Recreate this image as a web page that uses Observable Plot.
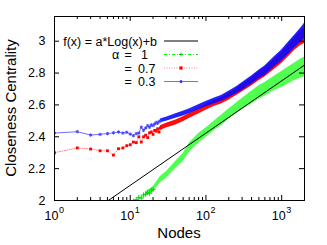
<!DOCTYPE html>
<html><head><meta charset="utf-8">
<script src="https://cdn.jsdelivr.net/npm/d3@7"></script>
<script src="https://cdn.jsdelivr.net/npm/@observablehq/plot@0.6"></script>
<style>
html,body{margin:0;padding:0;background:#fff;}
#chart{width:327px;height:245px;}
</style>
</head><body><div id="chart"></div>
<script>
// ---- data ----
const nodesSparse = [1,2,3,4,5,6,7,8,9,10,11,12,13,14,15,16,17,18,19,20,21,22,23,24,25];
const blueSparse  = [2.423,2.432,2.411,2.415,2.420,2.425,2.430,2.423,2.428,2.417,2.407,2.420,2.423,2.460,2.440,2.455,2.470,2.460,2.475,2.470,2.480,2.490,2.485,2.495,2.500];
const redSparse   = [2.300,2.330,2.323,2.312,2.312,2.285,2.325,2.330,2.344,2.350,2.367,2.363,2.400,2.367,2.400,2.410,2.395,2.425,2.430,2.415,2.440,2.435,2.450,2.430,2.455];
const greenSparseNodes = [11,12,13,14,15,16,17,18,19,20];
const greenSparse = [1.995,2.005,2.020,2.015,2.035,2.040,2.050,2.045,2.065,2.070];

const greenNodes = [16,20,25,30,40,50,60,80,100,130,160,200,250,300,400,500,600,800,1000,1200,1500,1800,2000];
const greenLow = [2.025,2.055,2.110,2.140,2.203,2.245,2.300,2.360,2.395,2.440,2.470,2.510,2.545,2.570,2.605,2.635,2.655,2.690,2.710,2.730,2.755,2.770,2.775];
const greenHigh= [2.055,2.085,2.150,2.180,2.247,2.295,2.360,2.420,2.455,2.500,2.535,2.575,2.610,2.640,2.685,2.720,2.740,2.780,2.810,2.835,2.865,2.890,2.900];

const bandNodes = [25,30,40,50,60,80,100,130,160,200,250,300,400,500,600,800,1000,1200,1500,1800,2000];
const blueLow  = [2.488,2.497,2.516,2.530,2.545,2.569,2.588,2.607,2.621,2.645,2.668,2.691,2.729,2.762,2.785,2.838,2.875,2.912,2.960,2.995,3.017];
const blueHigh = [2.512,2.523,2.544,2.560,2.575,2.601,2.622,2.643,2.659,2.685,2.712,2.739,2.781,2.818,2.845,2.902,2.945,2.988,3.040,3.085,3.113];
const redLow   = [2.440,2.455,2.474,2.494,2.514,2.543,2.567,2.591,2.605,2.629,2.658,2.681,2.719,2.752,2.775,2.823,2.860,2.897,2.945,2.975,2.985];
const redHigh  = [2.470,2.485,2.506,2.526,2.546,2.577,2.603,2.629,2.645,2.671,2.702,2.729,2.771,2.808,2.835,2.887,2.930,2.973,3.025,3.065,3.088];

// fit f(x) = a*Log(x)+b  (natural log)
const fitA = 0.1425, fitB = 1.767;
const fitNodes = [1, 2000];

const xMajor = [1,10,100,1000];
const xMinor = [2,3,4,5,6,7,8,9,20,30,40,50,60,70,80,90,200,300,400,500,600,700,800,900];
const yTicks = [2,2.2,2.4,2.6,2.8,3];

const legendLabels = ["f(x) = a*Log(x)+b", "1", "0.7", "0.3"];

// ---- build tables ----
const band = (ns, lo, hi) => ns.map((n,i) => ({n, lo: lo[i], hi: hi[i]}));
const pts = (ns, vs) => ns.map((n,i) => ({n, v: vs[i]}));
const fit = fitNodes.map(n => ({n, v: fitA*Math.log(n)+fitB}));

const W = 327, H = 245, mL = 54, mR = 23, mT = 16, mB = 45;
const fw = W-mL-mR, fh = H-mT-mB;
const FONT = "'Liberation Sans', Arial, Helvetica, sans-serif";

const svg = Plot.plot({
  width: W, height: H,
  marginLeft: mL, marginRight: mR, marginTop: mT, marginBottom: mB,
  style: {fontFamily: FONT, fontSize: "12.5px", background: "white", color: "black", overflow: "visible"},
  x: {type: "log", domain: [1, 2000], axis: null},
  y: {domain: [2, 3.155], ticks: yTicks, tickSize: 0, tickPadding: 9, label: null,
      tickFormat: d => (d === 2 || d === 3) ? String(d) : d.toFixed(1)},
  marks: [
    // green alpha = 1
    Plot.areaY(band(greenNodes, greenLow, greenHigh), {x: "n", y1: "lo", y2: "hi", fill: "#33ff33", fillOpacity: 0.85, clip: true}),
    Plot.line(pts(greenSparseNodes, greenSparse), {x: "n", y: "v", stroke: "#00ff00", strokeWidth: 0.8, strokeDasharray: "3,2,1,2", clip: true}),
    Plot.dot(pts(greenSparseNodes, greenSparse), {x: "n", y: "v", symbol: "plus", r: 1.8, stroke: "#00dd00", strokeWidth: 1, clip: true}),
    // fit line
    Plot.line(fit, {x: "n", y: "v", stroke: "black", strokeWidth: 1, clip: true}),
    // red alpha = 0.7
    Plot.areaY(band(bandNodes, redLow, redHigh), {x: "n", y1: "lo", y2: "hi", fill: "#ff0000", fillOpacity: 0.95, clip: true}),
    Plot.line(pts(nodesSparse, redSparse), {x: "n", y: "v", stroke: "#ff8080", strokeWidth: 1, strokeDasharray: "1,1.5", clip: true}),
    Plot.dot(pts(nodesSparse, redSparse), {x: "n", y: "v", symbol: "square", r: 1.6, fill: "#ff0000", stroke: "none", clip: true}),
    // blue alpha = 0.3
    Plot.areaY(band(bandNodes, blueLow, blueHigh), {x: "n", y1: "lo", y2: "hi", fill: "#0a0aff", fillOpacity: 0.9, clip: true}),
    Plot.line(pts(nodesSparse, blueSparse), {x: "n", y: "v", stroke: "#7070ff", strokeWidth: 1, clip: true}),
    Plot.dot(pts(nodesSparse, blueSparse), {x: "n", y: "v", symbol: "asterisk", r: 1.6, stroke: "#4040ff", strokeWidth: 1, clip: true}),
    // inward ticks
    Plot.ruleX(xMajor, {x: d => d, insetTop: fh-5, stroke: "black"}),
    Plot.ruleX(xMajor, {x: d => d, insetBottom: fh-5, stroke: "black"}),
    Plot.ruleX(xMinor, {x: d => d, insetTop: fh-3, stroke: "black"}),
    Plot.ruleX(xMinor, {x: d => d, insetBottom: fh-3, stroke: "black"}),
    Plot.ruleY(yTicks, {y: d => d, insetRight: fw-5, stroke: "black"}),
    Plot.ruleY(yTicks, {y: d => d, insetLeft: fw-5, stroke: "black"}),
    Plot.frame({stroke: "black"}),
    // x tick labels 10^k
    Plot.text(xMajor, {x: d => d, frameAnchor: "bottom", text: d => "10", textAnchor: "end", lineAnchor: "bottom", dx: 4, dy: 19, fontSize: 12.5}),
    Plot.text(xMajor, {x: d => d, frameAnchor: "bottom", text: d => String(Math.round(Math.log10(d))), textAnchor: "start", lineAnchor: "bottom", dx: 4.5, dy: 12.5, fontSize: 9})
  ]
});

document.getElementById("chart").appendChild(svg);

// axis titles and key
const s = d3.select(svg);
s.append("text").attr("x", mL + fw/2).attr("y", 238).attr("text-anchor", "middle")
  .attr("font-family", FONT).attr("font-size", 15).attr("fill", "black").text("Nodes");
s.append("text").attr("transform", `translate(16,${mT + fh/2}) rotate(-90)`).attr("text-anchor", "middle")
  .attr("font-family", FONT).attr("font-size", 15).attr("fill", "black").text("Closeness Centrality");

const key = s.append("g").attr("font-family", FONT).attr("font-size", 12.5).attr("fill", "black").attr("text-anchor", "start");
const rows = [41, 54.5, 68, 81.5];
key.append("text").attr("x", 157).attr("y", rows[0] + 4.5).attr("text-anchor", "end").text(legendLabels[0]);
key.append("text").attr("x", 112).attr("y", rows[1] + 4.5).text("α");
[1,2,3].forEach(i => key.append("text").attr("x", 124.5).attr("y", rows[i] + 4.5).text("="));
key.append("text").attr("x", 141).attr("y", rows[1] + 4.5).text(legendLabels[1]);
key.append("text").attr("x", 138).attr("y", rows[2] + 4.5).text(legendLabels[2]);
key.append("text").attr("x", 138).attr("y", rows[3] + 4.5).text(legendLabels[3]);
const x0 = 164, x1 = 198, xm = 181;
key.append("line").attr("x1", x0).attr("x2", x1).attr("y1", rows[0]).attr("y2", rows[0]).attr("stroke", "black").attr("stroke-width", 1);
key.append("line").attr("x1", x0).attr("x2", x1).attr("y1", rows[1]).attr("y2", rows[1]).attr("stroke", "#00ff00").attr("stroke-dasharray", "3,2,1,2");
key.append("path").attr("d", `M${xm-2},${rows[1]}h4M${xm},${rows[1]-2}v4`).attr("stroke", "#00cc00");
key.append("line").attr("x1", x0).attr("x2", x1).attr("y1", rows[2]).attr("y2", rows[2]).attr("stroke", "#ff8080").attr("stroke-dasharray", "1,1.5");
key.append("rect").attr("x", xm-1.6).attr("y", rows[2]-1.6).attr("width", 3.2).attr("height", 3.2).attr("fill", "#ff0000");
key.append("line").attr("x1", x0).attr("x2", x1).attr("y1", rows[3]).attr("y2", rows[3]).attr("stroke", "#7070ff");
key.append("circle").attr("cx", xm).attr("cy", rows[3]).attr("r", 1.5).attr("fill", "#3030ff");
</script>
</body></html>
